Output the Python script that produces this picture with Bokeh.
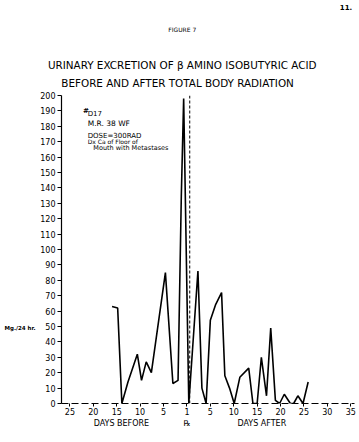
from bokeh.plotting import figure
from bokeh.models import Range1d, Label, FixedTicker, LinearAxis
from bokeh.embed import file_html
from bokeh.resources import INLINE

# ---- data (days relative to radiation; negative = before) ----
days = [-16.0, -14.8, -13.9, -12.6, -10.6, -9.7, -8.7, -7.6, -4.6, -3.0,
        -1.9, -1.2, -0.7, 0.4, 2.35, 3.2, 4.1, 5.0, 6.1, 7.4,
        8.1, 9.1, 10.1, 11.3, 13.2, 14.1, 15.0, 15.9, 17.0, 17.9,
        18.9, 19.8, 20.8, 22.1, 22.8, 23.7, 24.8, 25.9]
mg_per_24h = [63, 62, 0, 14, 32, 15, 27, 20, 85, 13,
              15, 135, 198, 0, 86, 10, 0, 54, 64, 72,
              18, 10, 0, 17, 23, 0, 0, 30, 5, 49,
              2, 0, 6, 0, 0, 5, 0, 14]
rx_day = 0.6
y_ticks = list(range(0, 201, 10))
x_ticks = [-25, -20, -15, -10, -5, 0, 5, 10, 15, 20, 25, 30, 35]
x_tick_labels = ["25", "20", "15", "10", "5", "1", "5", "10", "15", "20", "25", "30", "35"]
caption_ticks = [-14, 0, 16]
caption_labels = ["DAYS BEFORE", "\u211e", "DAYS AFTER"]
title_lines = ["BEFORE AND AFTER TOTAL BODY RADIATION",
               "URINARY EXCRETION OF \u03b2 AMINO ISOBUTYRIC ACID"]
title_centers = [-2, -1]
y_label = "Mg./24 hr."
y_label_at = 49

FONT = "DejaVu Sans"

p = figure(width=359, height=442, output_backend="svg", toolbar_location=None,
           x_range=Range1d(-26.8, 35.8), y_range=Range1d(0, 200),
           min_border_left=61, min_border_right=5, min_border_top=95, min_border_bottom=39,
           background_fill_color="white", border_fill_color="white")
p.outline_line_color = None
p.grid.visible = False

# axes
p.yaxis.ticker = FixedTicker(ticks=y_ticks)
p.yaxis.major_tick_out = 4
p.yaxis.major_tick_in = 0
p.yaxis.minor_tick_line_color = None
p.yaxis.major_label_standoff = 2
p.yaxis.major_label_text_font = FONT
p.yaxis.major_label_text_font_size = "8px"
p.yaxis.major_label_text_color = "black"
p.yaxis.axis_line_width = 1.2
p.yaxis.axis_line_color = "black"
p.yaxis.major_tick_line_color = "black"

p.xaxis.ticker = FixedTicker(ticks=x_ticks)
p.xaxis.major_label_overrides = {t: l for t, l in zip(x_ticks, x_tick_labels)}
p.xaxis.major_tick_out = 3
p.xaxis.major_tick_in = 0
p.xaxis.minor_tick_line_color = None
p.xaxis.major_label_standoff = 1
p.xaxis.major_label_text_font = FONT
p.xaxis.major_label_text_font_size = "8px"
p.xaxis.major_label_text_color = "black"
p.xaxis.axis_line_color = "black"
p.xaxis.axis_line_width = 1.2
p.xaxis.axis_line_dash = "7 3"
p.xaxis.major_tick_line_color = "black"


def text_axis(side, ticks, labels, size, standoff, bold=False):
    ax = LinearAxis(ticker=FixedTicker(ticks=ticks),
                    major_label_overrides={t: l for t, l in zip(ticks, labels)},
                    axis_line_color=None, major_tick_line_color=None,
                    minor_tick_line_color=None, major_tick_out=0, major_tick_in=0,
                    minor_tick_out=0, minor_tick_in=0,
                    major_label_standoff=standoff,
                    major_label_text_font=FONT, major_label_text_font_size=size,
                    major_label_text_color="black",
                    major_label_text_font_style="bold" if bold else "normal")
    if side in ("left", "right"):
        ax.major_label_orientation = "horizontal"
    p.add_layout(ax, side)
    return ax


# captions below x axis and y-axis unit label
cap = text_axis("below", caption_ticks, caption_labels, "8px", 1)
text_axis("left", [y_label_at], [y_label], "5.5px", 2, bold=True)
# title lines and page header (stacked outward from the frame)
text_axis("above", [title_centers[0]], [title_lines[0]], "10.4px", 7)
text_axis("above", [title_centers[1]], [title_lines[1]], "10.4px", 3)
text_axis("above", [-1], ["FIGURE 7"], "6px", 23)
text_axis("above", [34], ["11."], "7px", 13, bold=True)

# data line
p.line(days, mg_per_24h, line_color="black", line_width=1.6)
# Rx marker line
p.segment(x0=[rx_day], y0=[0], x1=[rx_day], y1=[200], line_color="black",
          line_width=1, line_dash="3 2")


def lab(x, y, text, size, bold=False):
    p.add_layout(Label(x=x, y=y, text=text, text_font=FONT, text_font_size=size,
                       text_align="left", text_baseline="middle", text_color="black",
                       text_font_style="bold" if bold else "normal"))


# case annotation
lab(-22.2, 189.8, "#", "7px", True)
lab(-21.2, 187.8, "D17", "7px")
lab(-21.2, 181.8, "M.R.  38  WF", "7.5px")
lab(-21.2, 173.7, "DOSE=300RAD", "7px")
lab(-21.2, 170.1, "Dx Ca of Floor of", "6px")
lab(-20.0, 166.2, "Mouth with Metastases", "6.5px")

open("out.html", "w").write(file_html(p, INLINE))
